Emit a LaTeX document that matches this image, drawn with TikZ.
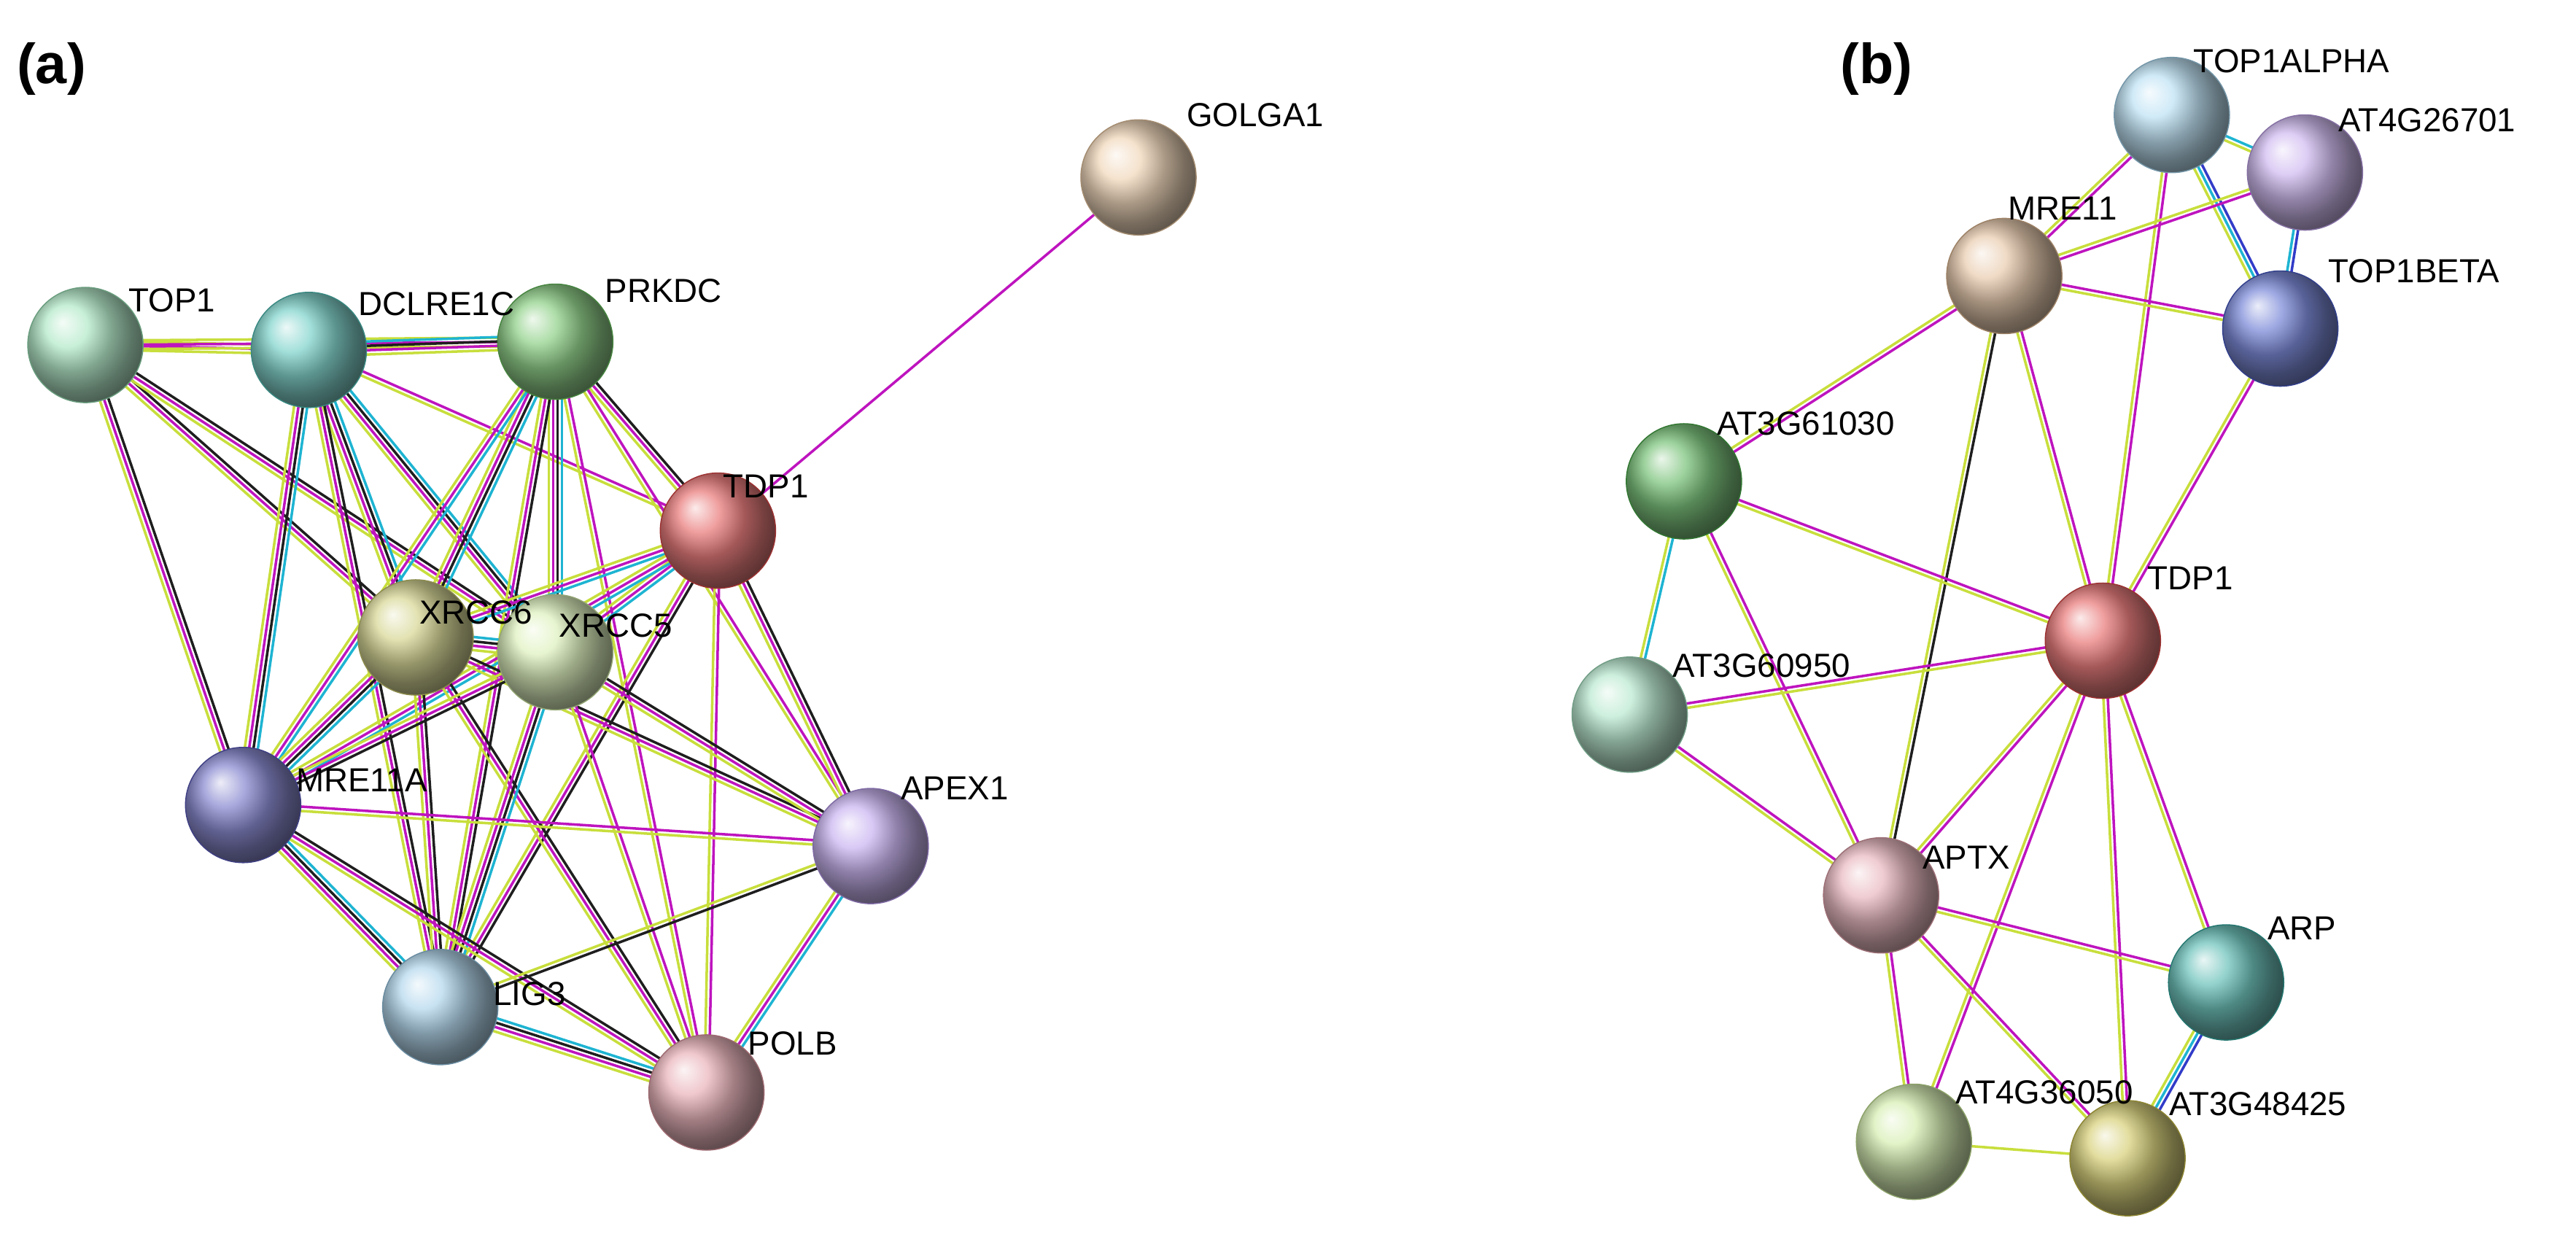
\documentclass[tikz,border=0pt]{standalone}
\usepackage{fontspec}
\setmainfont{Liberation Sans}
\usetikzlibrary{calc,shadings}
\definecolor{ey}{RGB}{200,222,60}
\definecolor{ek}{RGB}{30,30,30}
\definecolor{em}{RGB}{190,20,190}
\definecolor{ec}{RGB}{30,180,210}
\definecolor{eb}{RGB}{50,60,200}
\tikzset{
 ball/.style={circle,minimum size=1.58cm,inner sep=0pt,shading=ball,ball color=#1!70!white,draw=#1!70!black,line width=0.4pt},
 lab/.style={anchor=west,inner sep=0pt,font=\fontsize{13}{15}\selectfont},
 plab/.style={anchor=west,inner sep=0pt,font=\bfseries\fontsize{22}{26}\selectfont}
}
\newcommand\nd[4]{\node[ball=#4] (#1) at (#2,#3) {};}
\newcommand\lb[4]{\node[lab] (#1) at (#2,#3) {#4};}
\newcommand\edg[3]{%
 \gdef\nn{0}\foreach \c in {#3}{\xdef\nn{\the\numexpr\nn+1\relax}}%
 \foreach \c [count=\i] in {#3}{\pgfmathsetmacro\o{(\i-(\nn+1)/2)*1.7}%
 \draw[\c,line width=1pt] ($(#1.center)!\o pt!90:(#2.center)$) -- ($(#2.center)!\o pt!-90:(#1.center)$);}}
\begin{document}
\begin{tikzpicture}[x=0.0225cm,y=-0.0225cm]
\useasboundingbox (0,0) rectangle (1568,751);
\node[plab] (pa) at (10,42) {(a)};
\node[plab] (pb) at (1120,42) {(b)};
\path (52,210) coordinate (TOP1) (188,213) coordinate (DCL) (338,208) coordinate (PRK)
 (693,108) coordinate (GOL) (437,323) coordinate (TDPa) (253,388) coordinate (X6)
 (338,397) coordinate (X5) (148,490) coordinate (MRA) (530,515) coordinate (APE)
 (268,613) coordinate (LIG) (430,665) coordinate (POL);
\path (1322,70) coordinate (T1A) (1403,105) coordinate (AT4) (1220,168) coordinate (MRB)
 (1388,200) coordinate (T1B) (1025,293) coordinate (A61) (1280,390) coordinate (TDPb)
 (992,435) coordinate (A60) (1145,545) coordinate (APT) (1355,598) coordinate (ARP)
 (1165,695) coordinate (A36) (1295,705) coordinate (A48);
% edges a
\edg{TOP1}{DCL}{ey,em,ey}
\edg{TOP1}{PRK}{ey,em,ey}
\edg{TOP1}{X6}{ey,em,ek}
\edg{TOP1}{X5}{ey,em,ek}
\edg{TOP1}{MRA}{ey,em,ek}
\edg{DCL}{PRK}{ey,em,ek,ec}
\edg{DCL}{X6}{ey,em,ek,ec}
\edg{DCL}{X5}{ey,em,ek,ec}
\edg{DCL}{MRA}{ey,em,ek,ec}
\edg{DCL}{TDPa}{ey,em}
\edg{DCL}{LIG}{ey,em,ek}
\edg{PRK}{X6}{ey,em,ek,ec}
\edg{PRK}{X5}{ey,em,ek,ec}
\edg{PRK}{TDPa}{ey,em,ek}
\edg{PRK}{MRA}{ey,em,ec}
\edg{PRK}{LIG}{ey,em,ek}
\edg{PRK}{APE}{ey,em}
\edg{PRK}{POL}{ey,em}
\edg{GOL}{TDPa}{em}
\edg{TDPa}{X6}{ey,em,ec}
\edg{TDPa}{X5}{ey,em,ec}
\edg{TDPa}{MRA}{ey,em,ec}
\edg{TDPa}{APE}{ey,em,ek}
\edg{TDPa}{LIG}{ey,em,ek}
\edg{TDPa}{POL}{ey,em}
\edg{X6}{X5}{ey,em,ek,ec}
\edg{X6}{MRA}{ey,em,ek,ec}
\edg{X6}{APE}{ey,em,ek}
\edg{X6}{LIG}{ey,em,ek}
\edg{X6}{POL}{ey,em,ek}
\edg{X5}{MRA}{ey,em,ek}
\edg{X5}{APE}{ey,em,ek}
\edg{X5}{LIG}{ey,em,ek,ec}
\edg{X5}{POL}{ey,em}
\edg{MRA}{APE}{ey,em}
\edg{MRA}{LIG}{ey,em,ek,ec}
\edg{MRA}{POL}{ey,em,ek}
\edg{APE}{LIG}{ey,ek}
\edg{APE}{POL}{ey,em,ec}
\edg{LIG}{POL}{ey,em,ek,ec}
% edges b
\edg{T1A}{AT4}{ey,ec}
\edg{T1A}{MRB}{ey,em}
\edg{T1A}{T1B}{ey,ec,eb}
\edg{T1A}{TDPb}{ey,em}
\edg{AT4}{MRB}{ey,em}
\edg{AT4}{T1B}{ec,eb}
\edg{MRB}{T1B}{ey,em}
\edg{MRB}{A61}{ey,em}
\edg{MRB}{TDPb}{ey,em}
\edg{MRB}{APT}{ey,ek}
\edg{T1B}{TDPb}{ey,em}
\edg{A61}{A60}{ey,ec}
\edg{A61}{TDPb}{ey,em}
\edg{A61}{APT}{ey,em}
\edg{A60}{TDPb}{ey,em}
\edg{A60}{APT}{ey,em}
\edg{TDPb}{APT}{ey,em}
\edg{TDPb}{ARP}{ey,em}
\edg{TDPb}{A36}{ey,em}
\edg{TDPb}{A48}{ey,em}
\edg{APT}{ARP}{ey,em}
\edg{APT}{A36}{ey,em}
\edg{APT}{A48}{ey,em}
\edg{ARP}{A48}{ey,ec,eb}
\edg{A36}{A48}{ey}
% colours
\definecolor{cTOP1}{RGB}{150,225,180}
\definecolor{cDCL}{RGB}{80,195,185}
\definecolor{cPRK}{RGB}{100,190,90}
\definecolor{cGOL}{RGB}{235,200,160}
\definecolor{cTDP}{RGB}{225,70,70}
\definecolor{cX6}{RGB}{200,200,110}
\definecolor{cX5}{RGB}{210,236,165}
\definecolor{cMRA}{RGB}{90,90,190}
\definecolor{cAPE}{RGB}{180,150,235}
\definecolor{cLIG}{RGB}{150,200,230}
\definecolor{cPOL}{RGB}{225,150,160}
\definecolor{cT1A}{RGB}{165,215,240}
\definecolor{cAT4}{RGB}{190,160,235}
\definecolor{cMRB}{RGB}{225,185,145}
\definecolor{cT1B}{RGB}{70,90,200}
\definecolor{cA61}{RGB}{70,170,70}
\definecolor{cA60}{RGB}{160,225,190}
\definecolor{cAPT}{RGB}{225,158,168}
\definecolor{cARP}{RGB}{50,170,160}
\definecolor{cA36}{RGB}{200,232,150}
\definecolor{cA48}{RGB}{200,190,70}
% nodes a
\nd{nTOP1}{52}{210}{cTOP1}
\nd{nDCL}{188}{213}{cDCL}
\nd{nPRK}{338}{208}{cPRK}
\nd{nGOL}{693}{108}{cGOL}
\nd{nTDPa}{437}{323}{cTDP}
\nd{nX6}{253}{388}{cX6}
\nd{nX5}{338}{397}{cX5}
\nd{nMRA}{148}{490}{cMRA}
\nd{nAPE}{530}{515}{cAPE}
\nd{nLIG}{268}{613}{cLIG}
\nd{nPOL}{430}{665}{cPOL}
% nodes b
\nd{nT1A}{1322}{70}{cT1A}
\nd{nAT4}{1403}{105}{cAT4}
\nd{nMRB}{1220}{168}{cMRB}
\nd{nT1B}{1388}{200}{cT1B}
\nd{nA61}{1025}{293}{cA61}
\nd{nTDPb}{1280}{390}{cTDP}
\nd{nA60}{992}{435}{cA60}
\nd{nAPT}{1145}{545}{cAPT}
\nd{nARP}{1355}{598}{cARP}
\nd{nA36}{1165}{695}{cA36}
\nd{nA48}{1295}{705}{cA48}
% labels
\lb{lTOP1}{78}{183}{TOP1}
\lb{lDCL}{218}{185}{DCLRE1C}
\lb{lPRK}{368}{177}{PRKDC}
\lb{lGOL}{722}{70}{GOLGA1}
\lb{lTDPa}{440}{296}{TDP1}
\lb{lX6}{255}{373}{XRCC6}
\lb{lX5}{340}{381}{XRCC5}
\lb{lMRA}{180}{475}{MRE11A}
\lb{lAPE}{548}{480}{APEX1}
\lb{lLIG}{300}{605}{LIG3}
\lb{lPOL}{455}{635}{POLB}
\lb{lT1A}{1335}{37}{TOP1ALPHA}
\lb{lAT4}{1423}{73}{AT4G26701}
\lb{lMRB}{1222}{127}{MRE11}
\lb{lT1B}{1417}{165}{TOP1BETA}
\lb{lA61}{1045}{258}{AT3G61030}
\lb{lTDPb}{1307}{352}{TDP1}
\lb{lA60}{1018}{405}{AT3G60950}
\lb{lAPT}{1170}{522}{APTX}
\lb{lARP}{1380}{565}{ARP}
\lb{lA36}{1190}{665}{AT4G36050}
\lb{lA48}{1320}{672}{AT3G48425}
\end{tikzpicture}
\end{document}
